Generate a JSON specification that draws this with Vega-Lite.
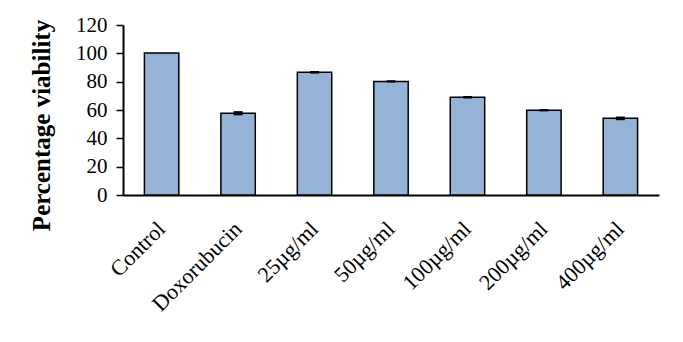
{
  "$schema": "https://vega.github.io/schema/vega-lite/v6.json",
  "autosize": {"type": "none"},
  "padding": {"left": 123, "top": 25, "right": 24, "bottom": 147},
  "width": 536,
  "height": 170,
  "background": "white",
  "config": {
    "view": {"stroke": null},
    "font": "Liberation Serif",
    "axis": {"labelFont": "Liberation Serif", "titleFont": "Liberation Serif"}
  },
  "data": {
    "values": [
      {"group": "Control", "viability": 100.2, "lo": 100.2, "hi": 100.2},
      {"group": "Doxorubucin", "viability": 57.7, "lo": 56.2, "hi": 59.2},
      {"group": "25µg/ml", "viability": 86.6, "lo": 85.7, "hi": 87.5},
      {"group": "50µg/ml", "viability": 80.2, "lo": 79.4, "hi": 81.0},
      {"group": "100µg/ml", "viability": 69.0, "lo": 68.1, "hi": 69.9},
      {"group": "200µg/ml", "viability": 59.8, "lo": 59.0, "hi": 60.6},
      {"group": "400µg/ml", "viability": 54.1, "lo": 52.8, "hi": 55.4}
    ]
  },
  "encoding": {
    "x": {
      "field": "group",
      "type": "nominal",
      "sort": null,
      "scale": {"paddingInner": 0.55, "paddingOuter": 0.28},
      "axis": {
        "title": null,
        "labelAngle": -45,
        "labelAlign": "right",
        "labelBaseline": "middle",
        "labelFontSize": 22,
        "labelColor": "black",
        "labelPadding": 30,
        "labelOverlap": false,
        "labelBound": false,
        "ticks": false,
        "domainColor": "black",
        "domainWidth": 2,
        "grid": false
      }
    },
    "y": {
      "field": "viability",
      "type": "quantitative",
      "scale": {"domain": [0, 120], "nice": false},
      "axis": {
        "title": "Percentage viability",
        "titleFontSize": 25,
        "titleFontWeight": "bold",
        "titleColor": "black",
        "titlePadding": 21,
        "titleY": 100,
        "values": [0, 20, 40, 60, 80, 100, 120],
        "labelOverlap": false,
        "labelFontSize": 21,
        "labelColor": "black",
        "labelPadding": 9,
        "tickSize": 7,
        "tickColor": "black",
        "tickWidth": 1.5,
        "domainColor": "black",
        "domainWidth": 2,
        "grid": false
      }
    }
  },
  "layer": [
    {
      "mark": {"type": "bar", "color": "#95B3D7", "stroke": "black", "strokeWidth": 1.5}
    },
    {
      "mark": {"type": "rule", "color": "black", "strokeWidth": 9},
      "encoding": {
        "y": {"field": "lo", "type": "quantitative"},
        "y2": {"field": "hi"}
      }
    }
  ]
}
